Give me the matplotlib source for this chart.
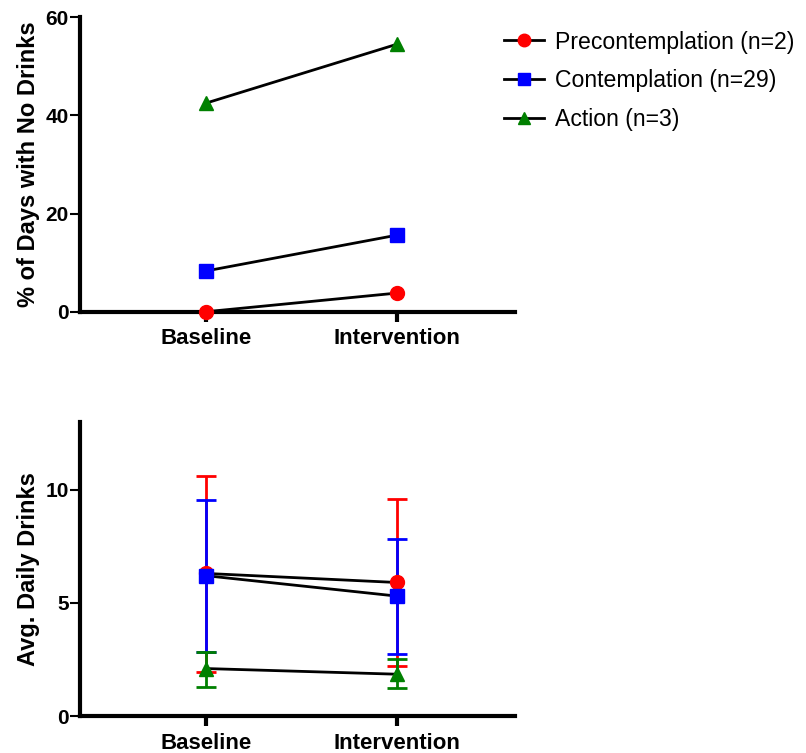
import matplotlib
matplotlib.use("Agg")
import matplotlib.pyplot as plt
import numpy as np

categories = ["Baseline", "Intervention"]
series = ["Precontemplation (n=2)", "Contemplation (n=29)", "Action (n=3)"]
colors = ["#ff0000", "#0000ff", "#008000"]
markers = ["o", "s", "^"]

pct_no_drinks = {
    "Precontemplation (n=2)": [0.0, 3.8],
    "Contemplation (n=29)": [8.3, 15.6],
    "Action (n=3)": [42.5, 54.5],
}
avg_drinks = {
    "Precontemplation (n=2)": [6.3, 5.9],
    "Contemplation (n=29)": [6.2, 5.3],
    "Action (n=3)": [2.1, 1.85],
}
err_upper = {
    "Precontemplation (n=2)": [10.6, 9.6],
    "Contemplation (n=29)": [9.55, 7.8],
    "Action (n=3)": [2.85, 2.5],
}
err_lower = {
    "Precontemplation (n=2)": [1.95, 2.2],
    "Contemplation (n=29)": [2.85, 2.75],
    "Action (n=3)": [1.3, 1.25],
}

plt.rcParams['font.family'] = ['Liberation Sans', 'DejaVu Sans']

fig = plt.figure(figsize=(8.06, 7.53), dpi=100)
ax1 = fig.add_axes([0.099, 0.586, 0.54, 0.391])
ax2 = fig.add_axes([0.099, 0.049, 0.54, 0.391])

x = np.arange(len(categories))

def style(ax, ylim, yticks, ylabel):
    ax.set_xlim(-0.66, 1.62)
    ax.set_ylim(*ylim)
    ax.set_yticks(yticks)
    ax.set_xticks(x)
    ax.set_xticklabels(categories, fontsize=16, fontweight='bold')
    for t in ax.get_yticklabels():
        t.set_fontsize(15)
        t.set_fontweight('bold')
    ax.spines['top'].set_visible(False)
    ax.spines['right'].set_visible(False)
    ax.spines['left'].set_linewidth(3)
    ax.spines['bottom'].set_linewidth(3)
    ax.tick_params(axis='x', width=3, length=7, direction='out', pad=5)
    ax.tick_params(axis='y', width=1.5, length=7, direction='out', pad=1)
    ax.set_ylabel(ylabel, fontsize=17, fontweight='bold', labelpad=4)

handles = []
for s, c, m in zip(series, colors, markers):
    h, = ax1.plot(x, pct_no_drinks[s], color='black', lw=2, marker=m,
                  markerfacecolor=c, markeredgecolor=c, markersize=10, clip_on=False, zorder=3)
    handles.append(h)
style(ax1, (0, 60), [0, 20, 40, 60], "% of Days with No Drinks")

for s, c, m in zip(series, colors, markers):
    y = np.array(avg_drinks[s])
    lo = y - np.array(err_lower[s])
    hi = np.array(err_upper[s]) - y
    ax2.errorbar(x, y, yerr=[lo, hi], fmt='none', ecolor=c, elinewidth=2,
                 capsize=7, capthick=2, zorder=2)
for s, c, m in zip(series, colors, markers):
    ax2.plot(x, avg_drinks[s], color='black', lw=2, zorder=3)
for s, c, m in zip(series, colors, markers):
    ax2.plot(x, avg_drinks[s], ls='none', marker=m, markerfacecolor=c,
             markeredgecolor=c, markersize=10, zorder=4)
style(ax2, (0, 13), [0, 5, 10], "Avg. Daily Drinks")

fig.legend(handles, series, loc='upper left', bbox_to_anchor=(0.600, 0.987),
           frameon=False, fontsize=16.6, handlelength=1.7, labelspacing=0.68,
           handletextpad=0.5, markerscale=0.9)

fig.savefig("out.png", dpi=100)
